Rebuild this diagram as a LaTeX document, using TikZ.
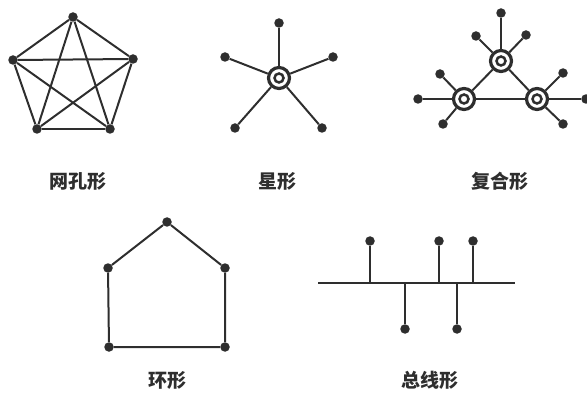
\documentclass[tikz,border=0pt]{standalone}
\usepackage{fontspec}
\newfontfamily\cjk{Noto Sans CJK SC}
\definecolor{ink}{HTML}{2E2E2E}
\begin{document}
\begin{tikzpicture}[x=1pt,y=-1pt,
  dot/.style={circle,fill=ink,inner sep=0pt,minimum size=9.5pt},
  hub/.style={circle,draw=ink,line width=3.2pt,fill=white,inner sep=0pt,minimum size=21pt},
  hubin/.style={circle,draw=ink,line width=2.5pt,inner sep=0pt,minimum size=9pt},
  wire/.style={draw=ink,line width=2pt},
  lbl/.style={font=\cjk\bfseries\fontsize{19}{19}\selectfont,text=ink}]
\useasboundingbox (0,0) rectangle (587,393);
% mesh
\node[dot] (a1) at (73,17) {};
\node[dot] (a2) at (13,60) {};
\node[dot] (a3) at (133,59) {};
\node[dot] (a4) at (37,129) {};
\node[dot] (a5) at (110,129) {};
\foreach \u/\v in {a1/a2,a1/a3,a1/a4,a1/a5,a2/a3,a2/a4,a2/a5,a3/a4,a3/a5,a4/a5}
  \path[wire] (\u) -- (\v);
\node[lbl] (l1) at (78,181) {网孔形};
% star
\node[hub] (s0) at (279,78) {};
\node[hubin] at (s0) {};
\node[dot] (s1) at (279,23) {};
\node[dot] (s2) at (225,57) {};
\node[dot] (s3) at (333,57) {};
\node[dot] (s4) at (235,128) {};
\node[dot] (s5) at (322,128) {};
\foreach \v in {s1,s2,s3,s4,s5} \path[wire] (s0) -- (\v);
\node[lbl] (l2) at (277,181) {星形};
% compound
\node[hub] (h1) at (501,61) {};
\node[hub] (h2) at (464,99) {};
\node[hub] (h3) at (537,99) {};
\foreach \h in {h1,h2,h3} \node[hubin] at (\h) {};
\path[wire] (h1) -- (h2);
\path[wire] (h1) -- (h3);
\path[wire] (h2) -- (h3);
\node[dot] (c1) at (501,13) {};
\node[dot] (c2) at (476,36) {};
\node[dot] (c3) at (526,35) {};
\node[dot] (c4) at (440,74) {};
\node[dot] (c5) at (418,99) {};
\node[dot] (c6) at (443,124) {};
\node[dot] (c7) at (563,73) {};
\node[dot] (c8) at (586,99) {};
\node[dot] (c9) at (563,124) {};
\foreach \v in {c1,c2,c3} \path[wire] (h1) -- (\v);
\foreach \v in {c4,c5,c6} \path[wire] (h2) -- (\v);
\foreach \v in {c7,c8,c9} \path[wire] (h3) -- (\v);
\node[lbl] (l3) at (500,181) {复合形};
% ring
\node[dot] (r1) at (167,222) {};
\node[dot] (r2) at (108,268) {};
\node[dot] (r3) at (225,268) {};
\node[dot] (r4) at (109,347) {};
\node[dot] (r5) at (225,347) {};
\path[wire] (r1) -- (r2) -- (r4) -- (r5) -- (r3) -- (r1);
\node[lbl] (l4) at (167,380) {环形};
% bus
\coordinate (b0) at (318,283);
\coordinate (b9) at (515,283);
\path[wire] (b0) -- (b9);
\node[dot] (d1) at (370,241) {};
\node[dot] (d2) at (405,329) {};
\node[dot] (d3) at (439,241) {};
\node[dot] (d4) at (457,329) {};
\node[dot] (d5) at (473,241) {};
\foreach \v in {d1,d2,d3,d4,d5} \path[wire] (\v) -- (\v |- b0);
\node[lbl] (l5) at (430,380) {总线形};
\end{tikzpicture}
\end{document}
